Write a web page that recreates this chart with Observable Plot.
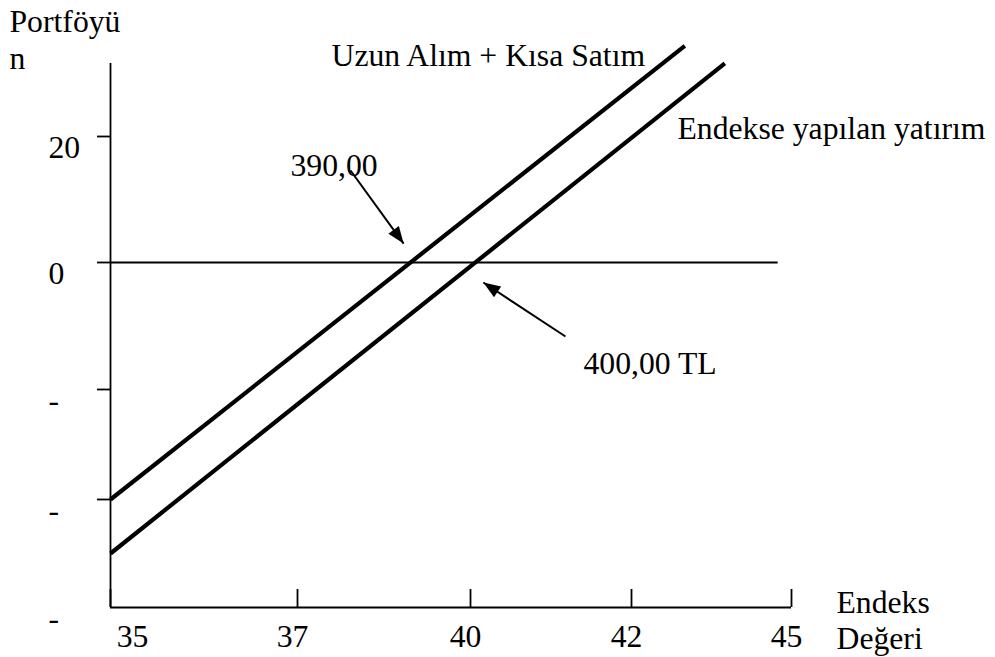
<!DOCTYPE html>
<html><head><meta charset="utf-8">
<script src="https://cdn.jsdelivr.net/npm/d3@7"></script>
<script src="https://cdn.jsdelivr.net/npm/@observablehq/plot@0.6"></script>
<style>html,body{margin:0;padding:0;background:#fff;} svg{display:block;}</style>
</head><body>
<script>
// ---- Data ----
const xTicks = [35, 37, 40, 42, 45];
const xTickLabels = ["35", "37", "40", "42", "45"];
const yTicks = [20, 0, -20, -40];
const yLabelValues = [20, 0, -20, -40, -60];
const yTickLabels = ["20", "0", "-", "-", "-"];
const seriesNames = ["Uzun Alım + Kısa Satım", "Endekse yapılan yatırım"];
const upperX = [35, 43];
const upperY = [-40, 34.4];
const lowerX = [35, 43.75];
const lowerY = [-50, 31.6];
const zeroLineX = [35, 44.75];
const arrowLabels = ["390,00", "400,00 TL"];
const arrowFromX = [37.92, 41.18];
const arrowFromY = [14.6, -11.65];
const arrowToX = [38.84, 40.16];
const arrowToY = [3.0, -3.15];
const yAxisTitle = "Portföyü\nn";
const xAxisTitle = "Endeks\nDeğeri";

// ---- Layout ----
const W = 995, H = 657;
const ML = 110, MT = 63, MR = 204, MB = 50;
const xRange = [110, 297, 470, 631, 791];
const yDomain = [-60, -40, -20, 0, 20];
const yRange = [607, 499, 389, 262, 136];
const F = 31.7;
const FONT = "Liberation Serif";

const sx = d3.scaleLinear(xTicks, xRange);
const sy = d3.scaleLinear(yDomain, yRange);

const upper = upperX.map((x, i) => ({x, y: upperY[i]}));
const lower = lowerX.map((x, i) => ({x, y: lowerY[i]}));
const arrows = arrowLabels.map((label, i) => {
  const px = sx(arrowToX[i]) - sx(arrowFromX[i]);
  const py = sy(arrowToY[i]) - sy(arrowFromY[i]);
  return {label, x1: arrowFromX[i], y1: arrowFromY[i], x2: arrowToX[i], y2: arrowToY[i],
          angle: Math.atan2(px, -py) * 180 / Math.PI};
});

const head = {draw(ctx) { ctx.moveTo(0, 0); ctx.lineTo(-6.5, 17); ctx.lineTo(6.5, 17); ctx.closePath(); }};

function label(text, left, baseline, lineHeight = 1) {
  return Plot.text([text], {
    text: d => d, frameAnchor: "top-left", textAnchor: "start", lineAnchor: "top",
    lineHeight, dx: left - ML, dy: baseline - 0.71 * F - MT,
    fontSize: F, fontFamily: FONT, fill: "black"
  });
}

const fmtY = d => yTickLabels[yLabelValues.indexOf(d)];
const fmtX = d => xTickLabels[xTicks.indexOf(d)];

const chart = Plot.plot({
  width: W, height: H,
  marginLeft: ML, marginTop: MT, marginRight: MR, marginBottom: MB,
  style: {fontFamily: FONT, fontSize: F + "px", color: "black", background: "white"},
  x: {type: "linear", domain: xTicks, range: xRange},
  y: {type: "linear", domain: yDomain, range: yRange},
  marks: [
    Plot.ruleX([xTicks[0]], {stroke: "black", strokeWidth: 1.8}),
    Plot.ruleY([yLabelValues[yLabelValues.length - 1]], {stroke: "black", strokeWidth: 1.8}),
    Plot.axisY(yTicks, {anchor: "left", tickSize: 13, tickFormat: () => "", strokeWidth: 1.8, label: null}),
    Plot.axisY(yLabelValues, {anchor: "left", tickSize: 0, tickPadding: 62, textAnchor: "start", dy: 11,
      tickFormat: fmtY, fontSize: F, fontFamily: FONT, label: null}),
    Plot.axisX(xTicks, {anchor: "bottom", tickSize: -18, tickFormat: () => "", strokeWidth: 1.8, label: null}),
    Plot.axisX(xTicks.slice(0, 1), {anchor: "bottom", tickSize: 0, tickPadding: 17, dx: 22,
      tickFormat: fmtX, fontSize: F, fontFamily: FONT, label: null}),
    Plot.axisX(xTicks.slice(1), {anchor: "bottom", tickSize: 0, tickPadding: 17, dx: -5,
      tickFormat: fmtX, fontSize: F, fontFamily: FONT, label: null}),
    Plot.ruleY([0], {x1: zeroLineX[0], x2: zeroLineX[1], stroke: "black", strokeWidth: 2}),
    Plot.line(upper, {x: "x", y: "y", stroke: "black", strokeWidth: 4.2, strokeLinecap: "butt"}),
    Plot.line(lower, {x: "x", y: "y", stroke: "black", strokeWidth: 4.2, strokeLinecap: "butt"}),
    Plot.link(arrows, {x1: "x1", y1: "y1", x2: "x2", y2: "y2", stroke: "black", strokeWidth: 2}),
    Plot.dot(arrows, {x: "x2", y: "y2", symbol: head, rotate: "angle", r: 4, fill: "black", stroke: "none"}),
    label(seriesNames[0], 331, 65),
    label(seriesNames[1], 677, 138),
    label(arrowLabels[0], 290, 175),
    label(arrowLabels[1], 583, 373),
    label(yAxisTitle, 9, 28, 37 / F),
    label(xAxisTitle, 836, 609, 36 / F)
  ]
});
document.body.append(chart);
</script>
</body></html>
